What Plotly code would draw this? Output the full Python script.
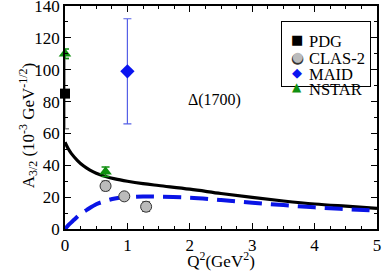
import plotly.graph_objects as go

# data
pdg_x = [0.0]; pdg_y = [85]; pdg_err = [22]
clas_x = [0.65, 0.95, 1.30]; clas_y = [27, 20.5, 14]; clas_err = [3, 2, 3]
maid_x = [1.0]; maid_y = [99]; maid_err = [33]
nstar_x = [0.0, 0.65]; nstar_y = [110, 36]; nstar_err = [3, 3]

curve_x = [0.0, 0.05, 0.1, 0.2, 0.3, 0.4, 0.5, 0.65, 0.8, 1.0, 1.25, 1.5, 2.0, 2.5, 3.0, 3.5, 4.0, 4.5, 5.0]
curve_y = [54.5, 50.5, 47.5, 43, 39.5, 37, 35, 33, 31.5, 30, 28.5, 27.3, 25, 22.3, 19.8, 17.6, 15.7, 14.3, 13]
dash_x = [0.0, 0.07, 0.14, 0.25, 0.35, 0.5, 0.6, 0.8, 1.0, 1.25, 1.5, 2.0, 2.5, 3.0, 3.5, 4.0, 4.5, 5.0]
dash_y = [0.0, 3.0, 5.6, 9.5, 12, 15.5, 17, 19.2, 20, 20.4, 20.3, 19.7, 18.2, 16.5, 15, 13.6, 12.5, 11.5]

legend_names = ["PDG", "CLAS-2", "MAID", "NSTAR"]
legend_glyphs = ["■", "●", "◆", "▲"]
legend_colors = ["black", "#bbbbbb", "#0a14f0", "#109010"]

FONT = "Times New Roman, Liberation Serif, DejaVu Serif, serif"

fig = go.Figure()
fig.add_trace(go.Scatter(x=curve_x, y=curve_y, mode="lines", line=dict(color="black", width=3.2, shape="spline"),
                         showlegend=False))
fig.add_trace(go.Scatter(x=dash_x, y=dash_y, mode="lines", line=dict(color="#0a14e6", width=4, dash="18px,9px", shape="spline"),
                         showlegend=False))
fig.add_trace(go.Scatter(x=pdg_x, y=pdg_y, mode="markers", name="PDG", showlegend=False, cliponaxis=False,
                         marker=dict(symbol="square", size=10, color="black"),
                         error_y=dict(type="data", array=pdg_err, color="#888888", thickness=1.5, width=4)))
fig.add_trace(go.Scatter(x=clas_x, y=clas_y, mode="markers", name="CLAS-2", showlegend=False, cliponaxis=False,
                         marker=dict(symbol="circle", size=11, color="#bbbbbb", line=dict(color="#333333", width=1)),
                         error_y=dict(type="data", array=clas_err, color="#555555", thickness=1.2, width=4)))
fig.add_trace(go.Scatter(x=maid_x, y=maid_y, mode="markers", name="MAID", showlegend=False, cliponaxis=False,
                         marker=dict(symbol="diamond", size=11, color="#0a14f0"),
                         error_y=dict(type="data", array=maid_err, color="#5560e6", thickness=1.2, width=4)))
fig.add_trace(go.Scatter(x=nstar_x, y=nstar_y, mode="markers", name="NSTAR", showlegend=False, cliponaxis=False,
                         marker=dict(symbol="triangle-up", size=11, color="#109010"),
                         error_y=dict(type="data", array=nstar_err, color="#109010", thickness=1.5, width=4)))

fig.add_annotation(x=2.39, y=81, text="Δ(1700)", showarrow=False, xref="x", yref="y",
                   font=dict(family=FONT, size=16, color="black"))

# y-axis title as annotation
fig.add_annotation(x=-0.165, y=0.465, xref="paper", yref="paper", textangle=-90, showarrow=False,
                   text="A<sub>3/2</sub> (10<sup>-3</sup> GeV<sup>-1/2</sup>)",
                   font=dict(family=FONT, size=17, color="black"))

# legend frame (an empty bordered annotation)
fig.add_annotation(x=0.8357, y=0.7839, xref="paper", yref="paper", text=" ", showarrow=False,
                   width=88, height=64, borderpad=0, bordercolor="black", borderwidth=1,
                   xanchor="center", yanchor="middle", font=dict(size=10))
rows = [0.892, 0.815, 0.743, 0.678]
GX = 0.745
for name, glyph, col, yy in zip(legend_names, legend_glyphs, legend_colors, rows):
    if name == "CLAS-2":
        fig.add_annotation(x=GX, y=yy, xref="paper", yref="paper", text="●", showarrow=False,
                           xanchor="center", font=dict(family="DejaVu Sans", size=15, color="#333333"))
    gsize = {"■": 13, "●": 13, "◆": 13, "▲": 12}[glyph]
    fig.add_annotation(x=GX, y=yy, xref="paper", yref="paper", text=glyph, showarrow=False,
                       xanchor="center", font=dict(family="DejaVu Sans", size=gsize, color=col))
    fig.add_annotation(x=0.777, y=yy, xref="paper", yref="paper", text=name, showarrow=False,
                       xanchor="left", font=dict(family=FONT, size=16.5, color="black"))

axis_common = dict(showline=True, linecolor="black", linewidth=1.5, mirror="ticks", ticks="inside",
                   ticklen=6, tickcolor="black", showgrid=False, zeroline=False, automargin=False,
                   ticklabeloverflow="allow",
                   tickfont=dict(family=FONT, size=17, color="black"))
fig.update_xaxes(range=[0, 5], dtick=1, minor=dict(dtick=0.25, ticks="inside", ticklen=3, tickcolor="black"),
                 title=dict(text="Q<sup>2</sup>(GeV<sup>2</sup>)", font=dict(family=FONT, size=17, color="black"), standoff=6),
                 **axis_common)
fig.update_yaxes(range=[0, 140], dtick=20, minor=dict(dtick=10, ticks="inside", ticklen=3, tickcolor="black"),
                 **axis_common)

fig.update_layout(width=382, height=271, margin=dict(l=65, r=5, t=6, b=42),
                  plot_bgcolor="white", paper_bgcolor="white", showlegend=False)
fig.write_html("out.html", config={"displayModeBar": False},
               post_script="document.body.style.margin='0';document.body.style.overflow='hidden';")
